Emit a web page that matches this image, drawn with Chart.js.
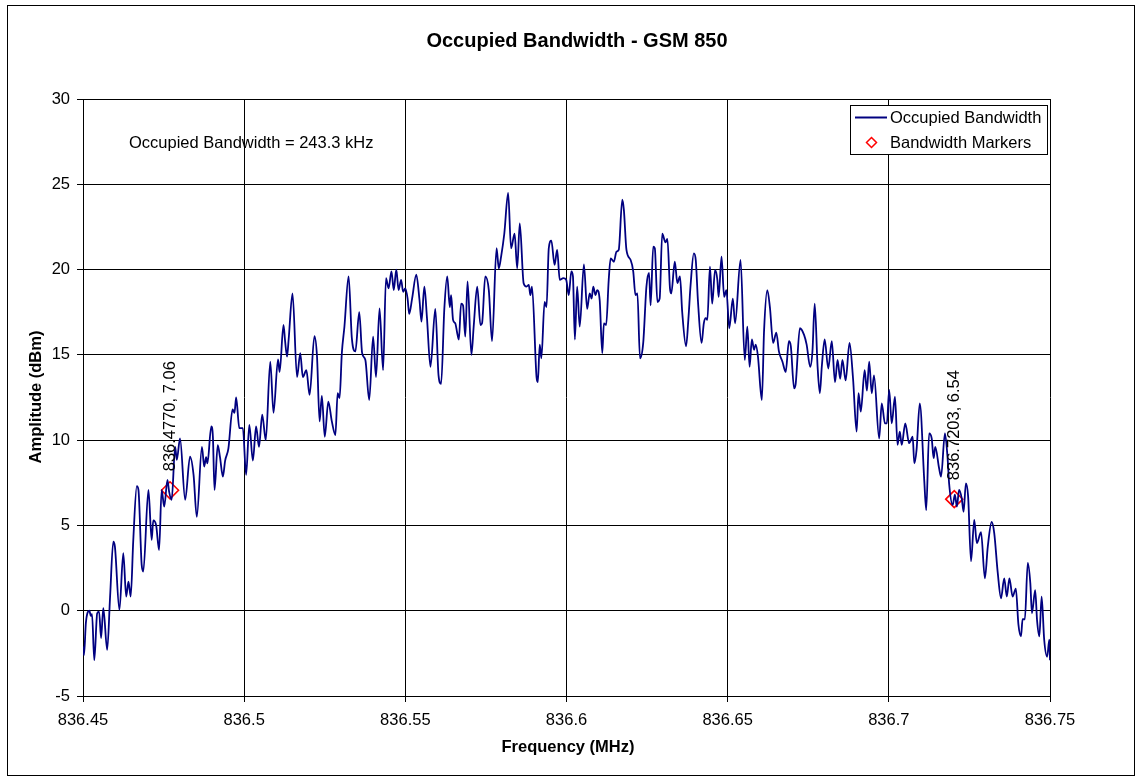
<!DOCTYPE html>
<html>
<head>
<meta charset="utf-8">
<title>Occupied Bandwidth - GSM 850</title>
<script src="https://cdn.jsdelivr.net/npm/chart.js@4.4.0/dist/chart.umd.min.js"></script>
<style>
  html, body { margin: 0; padding: 0; background: #fff; }
  #wrap { width: 1137px; height: 778px; }
</style>
</head>
<body>
<div id="wrap"><canvas id="obw" width="1137" height="778"></canvas></div>
<script>
// Trace (MHz / dBm)
const freqMHz = [
  836.4500, 836.4503, 836.4509, 836.4520, 836.4524, 836.4528, 836.4535, 836.4544, 836.4550, 836.4556,
  836.4563, 836.4575, 836.4584, 836.4594, 836.4599, 836.4613, 836.4625, 836.4634, 836.4641, 836.4648,
  836.4656, 836.4667, 836.4672, 836.4682, 836.4687, 836.4703, 836.4713, 836.4718, 836.4727, 836.4736,
  836.4744, 836.4752, 836.4762, 836.4767, 836.4775, 836.4786, 836.4791, 836.4801, 836.4817, 836.4832,
  836.4843, 836.4853, 836.4869, 836.4876, 836.4882, 836.4886, 836.4898, 836.4903, 836.4908, 836.4918,
  836.4925, 836.4934, 836.4941, 836.4951, 836.4964, 836.4970, 836.4975, 836.4985, 836.4996, 836.5006,
  836.5016, 836.5027, 836.5037, 836.5046, 836.5056, 836.5067, 836.5081, 836.5091, 836.5105, 836.5110,
  836.5122, 836.5127, 836.5133, 836.5138, 836.5150, 836.5164, 836.5174, 836.5182, 836.5193, 836.5203,
  836.5218, 836.5226, 836.5234, 836.5241, 836.5250, 836.5261, 836.5272, 836.5283, 836.5290, 836.5296,
  836.5303, 836.5311, 836.5324, 836.5334, 836.5345, 836.5357, 836.5366, 836.5376, 836.5388, 836.5400,
  836.5409, 836.5420, 836.5431, 836.5440, 836.5448, 836.5457, 836.5464, 836.5472, 836.5479, 836.5487,
  836.5493, 836.5500, 836.5507, 836.5512, 836.5521, 836.5534, 836.5544, 836.5550, 836.5559, 836.5567,
  836.5578, 836.5593, 836.5603, 836.5611, 836.5621, 836.5630, 836.5638, 836.5642, 836.5648, 836.5655,
  836.5661, 836.5666, 836.5673, 836.5679, 836.5686, 836.5693, 836.5705, 836.5712, 836.5723, 836.5733,
  836.5738, 836.5748, 836.5759, 836.5769, 836.5783, 836.5790, 836.5797, 836.5807, 836.5819, 836.5828,
  836.5839, 836.5847, 836.5855, 836.5867, 836.5876, 836.5883, 836.5888, 836.5893, 836.5907, 836.5911,
  836.5917, 836.5922, 836.5932, 836.5938, 836.5945, 836.5953, 836.5963, 836.5971, 836.5979, 836.5990,
  836.5999, 836.6007, 836.6015, 836.6020, 836.6026, 836.6033, 836.6041, 836.6054, 836.6064, 836.6072,
  836.6078, 836.6083, 836.6090, 836.6095, 836.6103, 836.6111, 836.6116, 836.6123, 836.6131, 836.6137,
  836.6147, 836.6155, 836.6162, 836.6173, 836.6178, 836.6186, 836.6199, 836.6207, 836.6214, 836.6220,
  836.6228, 836.6238, 836.6248, 836.6256, 836.6261, 836.6269, 836.6274, 836.6282, 836.6289, 836.6297,
  836.6307, 836.6313, 836.6321, 836.6325, 836.6336, 836.6344, 836.6352, 836.6359, 836.6371, 836.6378,
  836.6385, 836.6395, 836.6401, 836.6408, 836.6419, 836.6426, 836.6432, 836.6437, 836.6445, 836.6452,
  836.6461, 836.6468, 836.6472, 836.6481, 836.6489, 836.6496, 836.6505, 836.6516, 836.6523, 836.6540,
  836.6553, 836.6561, 836.6568, 836.6575, 836.6582, 836.6587, 836.6594, 836.6606, 836.6613, 836.6623,
  836.6631, 836.6641, 836.6651, 836.6659, 836.6670, 836.6680, 836.6690, 836.6696, 836.6706, 836.6711,
  836.6724, 836.6737, 836.6745, 836.6756, 836.6763, 836.6770, 836.6779, 836.6786, 836.6792, 836.6801,
  836.6812, 836.6823, 836.6833, 836.6841, 836.6849, 836.6856, 836.6866, 836.6878, 836.6889, 836.6900,
  836.6906, 836.6913, 836.6925, 836.6932, 836.6939, 836.6947, 836.6954, 836.6970, 836.6978, 836.6988,
  836.6994, 836.7001, 836.7009, 836.7019, 836.7027, 836.7034, 836.7040, 836.7051, 836.7063, 836.7074,
  836.7079, 836.7086, 836.7096, 836.7110, 836.7116, 836.7125, 836.7133, 836.7139, 836.7144, 836.7156,
  836.7162, 836.7174, 836.7182, 836.7187, 836.7198, 836.7205, 836.7211, 836.7218, 836.7226, 836.7232,
  836.7239, 836.7246, 836.7255, 836.7265, 836.7273, 836.7286, 836.7298, 836.7307, 836.7319, 836.7327,
  836.7338, 836.7348, 836.7358, 836.7366, 836.7374, 836.7384, 836.7394, 836.7402, 836.7410, 836.7415,
  836.7422, 836.7431, 836.7439, 836.7444, 836.7454, 836.7460, 836.7467, 836.7474, 836.7482, 836.7491,
  836.7498, 836.7500
];
const ampDbm = [
  -2.1, -2.6, -0.7, 0.0, -0.3, -0.2, -2.9, -0.15, -0.05, -1.6,
  0.15, -2.3, 0.8, 4.05, 3.76, 0.05, 3.37, 0.83, 1.7, 0.83,
  4.15, 7.3, 7.08, 2.7, 2.3, 7.08, 4.15, 5.3, 5.0, 3.56,
  7.08, 6.1, 7.67, 7.0, 6.5, 9.6, 8.84, 10.1, 6.5, 9.03,
  7.96, 5.5, 9.6, 8.45, 9.0, 8.64, 10.8, 10.2, 7.08, 9.7,
  9.0, 7.86, 8.8, 9.5, 11.8, 11.6, 12.5, 10.7, 10.7, 7.96,
  10.9, 8.8, 10.8, 9.6, 11.5, 10.0, 14.6, 11.6, 14.74, 14.0,
  16.75, 15.8, 14.9, 15.9, 18.6, 13.7, 15.1, 13.7, 14.1, 12.65,
  16.1, 14.9, 11.1, 12.6, 10.2, 12.26, 11.1, 10.3, 12.75, 12.46,
  15.1, 16.65, 19.6, 16.0, 15.2, 17.5, 15.1, 14.7, 12.35, 16.07,
  13.7, 17.73, 14.1, 19.5, 18.9, 19.9, 18.8, 20.0, 18.8, 19.4,
  18.7, 18.9, 18.3, 17.4, 18.3, 19.7, 18.2, 16.95, 19.0, 17.2,
  14.3, 17.7, 13.8, 13.3, 17.7, 19.6, 17.8, 18.5, 17.05, 16.85,
  16.27, 15.9, 18.0, 17.9, 16.07, 19.3, 15.0, 16.65, 19.0, 16.75,
  16.85, 19.6, 18.8, 15.8, 21.25, 20.07, 20.75, 22.1, 24.5, 21.25,
  22.1, 20.07, 22.7, 19.2, 19.0, 19.1, 18.5, 19.0, 13.7, 13.4,
  15.6, 14.8, 18.1, 17.8, 21.25, 21.7, 20.27, 21.15, 19.4, 19.5,
  19.4, 18.5, 19.9, 19.6, 15.9, 19.0, 16.65, 20.3, 17.7, 18.6,
  18.3, 19.0, 18.5, 18.8, 18.2, 15.1, 16.85, 16.75, 19.4, 20.66,
  20.46, 21.05, 21.15, 24.1, 23.5, 21.15, 20.56, 19.9, 18.5, 18.6,
  14.8, 15.7, 19.0, 19.8, 17.9, 21.35, 21.25, 18.1, 18.3, 22.1,
  21.6, 21.8, 18.9, 18.6, 20.46, 19.2, 19.6, 17.5, 15.5, 17.05,
  19.1, 20.95, 20.56, 18.1, 15.7, 16.85, 17.15, 17.05, 20.17, 18.0,
  19.98, 19.4, 18.4, 20.76, 18.4, 18.8, 16.56, 18.3, 16.85, 20.56,
  14.7, 16.65, 14.3, 15.9, 15.3, 15.6, 14.9, 12.35, 16.45, 18.8,
  17.8, 15.7, 16.3, 15.2, 14.6, 14.0, 15.8, 15.5, 13.04, 13.3,
  16.56, 16.17, 15.6, 14.3, 15.2, 18.0, 14.3, 12.75, 14.3, 15.9,
  14.2, 15.8, 13.4, 14.7, 13.6, 14.7, 13.5, 15.7, 13.6, 10.5,
  12.75, 11.67, 14.1, 12.9, 14.6, 12.75, 13.8, 10.1, 12.16, 10.98,
  10.98, 12.94, 10.98, 12.55, 9.72, 10.5, 9.72, 10.98, 9.82, 10.2,
  8.64, 9.43, 12.16, 7.6, 5.9, 10.4, 10.1, 8.94, 9.6, 8.35,
  7.86, 10.4, 9.03, 7.47, 6.2, 6.8, 6.1, 7.08, 6.6, 5.8,
  7.47, 6.7, 2.9, 5.33, 3.96, 4.6, 1.9, 3.76, 5.2, 4.55,
  2.2, 0.73, 1.9, 0.83, 1.9, 0.83, 1.3, -0.8, -1.5, -0.5,
  -0.5, 2.8, 1.6, -0.15, 1.2, -0.6, -1.5, 0.83, -1.7, -2.7,
  -1.7, -2.9
];

// 99% bandwidth edges
const markerFreq = [836.4770, 836.7203];
const markerAmp = [7.06, 6.54];

const xTickValues = [836.45, 836.5, 836.55, 836.6, 836.65, 836.7, 836.75];
const xTickLabels = ['836.45', '836.5', '836.55', '836.6', '836.65', '836.7', '836.75'];
const yTickValues = [-5, 0, 5, 10, 15, 20, 25, 30];
const yTickLabels = ['-5', '0', '5', '10', '15', '20', '25', '30'];

const TITLE = 'Occupied Bandwidth - GSM 850';
const NOTE = 'Occupied Bandwidth = 243.3 kHz';
const FONT = "'Liberation Sans', Arial, sans-serif";
const NAVY = '#000080';
const RED = '#ff0000';

const tracePoints = freqMHz.map((f, i) => ({ x: f, y: ampDbm[i] }));
const markerPoints = markerFreq.map((f, i) => ({ x: f, y: markerAmp[i] }));

/* ── frame, titles, note, marker labels and legend ── */
const decorations = {
  id: 'decorations',
  beforeDraw(chart) {
    const c = chart.ctx;
    c.save();
    c.fillStyle = '#fff';
    c.fillRect(0, 0, chart.width, chart.height);
    c.strokeStyle = '#000';
    c.lineWidth = 1;
    c.strokeRect(7.5, 5.5, 1127, 770);
    c.restore();
  },
  afterDraw(chart) {
    const c = chart.ctx;
    const xs = chart.scales.x, ys = chart.scales.y;
    c.save();
    c.fillStyle = '#000';

    c.font = 'bold 20px ' + FONT;
    c.textAlign = 'center';
    c.textBaseline = 'alphabetic';
    c.fillText(TITLE, 577, 47);

    c.font = 'bold 16.5px ' + FONT;
    c.fillText('Frequency (MHz)', 568, 752);
    c.save();
    c.translate(41, 397);
    c.rotate(-Math.PI / 2);
    c.fillText('Amplitude (dBm)', 0, 0);
    c.restore();

    c.font = '16.5px ' + FONT;
    c.textAlign = 'left';
    c.fillText(NOTE, 129, 148);

    // rotated labels above the two markers
    markerFreq.forEach((f, i) => {
      const px = xs.getPixelForValue(f);
      const py = ys.getPixelForValue(markerAmp[i]);
      c.save();
      c.translate(px, py - 19);
      c.rotate(-Math.PI / 2);
      c.textAlign = 'left';
      c.textBaseline = 'middle';
      c.fillText(f.toFixed(4) + ', ' + markerAmp[i].toFixed(2), 0, 0);
      c.restore();
    });

    // legend box
    c.fillStyle = '#fff';
    c.fillRect(850.5, 105.5, 197, 49);
    c.strokeStyle = '#000';
    c.lineWidth = 1;
    c.strokeRect(850.5, 105.5, 197, 49);

    c.strokeStyle = NAVY;
    c.lineWidth = 2;
    c.beginPath();
    c.moveTo(855, 117.5);
    c.lineTo(887, 117.5);
    c.stroke();

    c.strokeStyle = RED;
    c.lineWidth = 1.5;
    c.beginPath();
    c.moveTo(871.5, 137.5);
    c.lineTo(876.5, 142.5);
    c.lineTo(871.5, 147.5);
    c.lineTo(866.5, 142.5);
    c.closePath();
    c.stroke();

    c.fillStyle = '#000';
    c.font = '16.5px ' + FONT;
    c.textBaseline = 'middle';
    c.fillText('Occupied Bandwidth', 890, 118);
    c.fillText('Bandwidth Markers', 890, 143);
    c.restore();
  }
};

new Chart(document.getElementById('obw'), {
  type: 'scatter',
  data: {
    datasets: [
      {
        label: 'Occupied Bandwidth',
        data: tracePoints,
        showLine: true,
        borderColor: NAVY,
        backgroundColor: NAVY,
        borderWidth: 1.8,
        pointRadius: 0,
        cubicInterpolationMode: 'monotone',
        fill: false
      },
      {
        label: 'Bandwidth Markers',
        data: markerPoints,
        showLine: false,
        pointStyle: 'rectRot',
        pointRadius: 8.5,
        borderColor: RED,
        borderWidth: 1.6,
        backgroundColor: 'rgba(0,0,0,0)'
      }
    ]
  },
  options: {
    responsive: false,
    animation: false,
    layout: { padding: { left: 0, right: 87, top: 99, bottom: 0 } },
    plugins: {
      legend: { display: false },
      title: { display: false },
      tooltip: { enabled: false }
    },
    scales: {
      x: {
        type: 'linear',
        min: 836.45,
        max: 836.75,
        afterBuildTicks: (scale) => { scale.ticks = xTickValues.map(v => ({ value: v })); },
        afterFit: (scale) => { scale.height = 82; },
        ticks: {
          callback: (v, i) => xTickLabels[i],
          color: '#000',
          font: { family: FONT, size: 16.5 },
          padding: 9,
          maxRotation: 0,
          autoSkip: false
        },
        grid: { color: '#000', lineWidth: 1, tickLength: 6, tickColor: '#000' },
        border: { display: true, color: '#000', width: 1 }
      },
      y: {
        type: 'linear',
        min: -5,
        max: 30,
        afterBuildTicks: (scale) => { scale.ticks = yTickValues.map(v => ({ value: v })); },
        afterFit: (scale) => { scale.width = 83; },
        ticks: {
          callback: (v, i) => yTickLabels[i],
          color: '#000',
          font: { family: FONT, size: 16.5 },
          padding: 7,
          autoSkip: false
        },
        grid: { color: '#000', lineWidth: 1, tickLength: 6, tickColor: '#000' },
        border: { display: true, color: '#000', width: 1 }
      }
    }
  },
  plugins: [decorations]
});
</script>
</body>
</html>
